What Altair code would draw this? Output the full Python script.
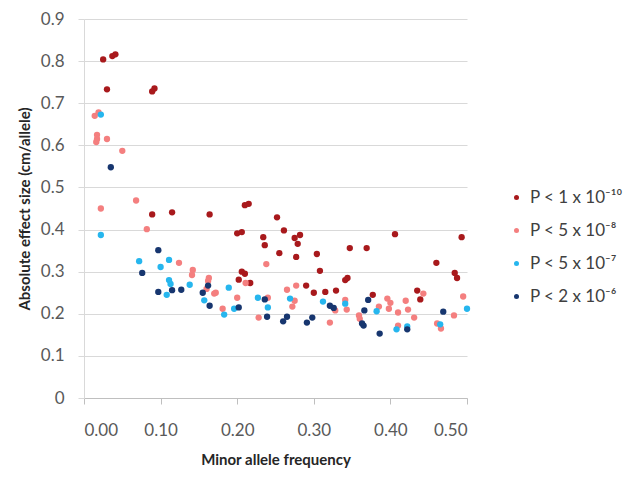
import altair as alt
import pandas as pd

labels = ["P < 1 x 10⁻¹⁰", "P < 5 x 10⁻⁸", "P < 5 x 10⁻⁷", "P < 2 x 10⁻⁶"]
colors = ["#A8191C", "#F47F7F", "#26B6EE", "#17366F"]

# P < 1e-10
s1_maf = [0.025, 0.037, 0.041, 0.030, 0.089, 0.092, 0.089, 0.115, 0.164, 0.210, 0.215,
          0.252, 0.261, 0.200, 0.206, 0.234, 0.236, 0.255, 0.275, 0.282, 0.279, 0.277,
          0.304, 0.347, 0.308, 0.206, 0.210, 0.202, 0.217, 0.290, 0.300, 0.315, 0.329,
          0.341, 0.344, 0.406, 0.493, 0.369, 0.460, 0.484, 0.487, 0.377, 0.435, 0.439]
s1_eff = [0.804, 0.812, 0.816, 0.733, 0.728, 0.735, 0.436, 0.441, 0.436, 0.458, 0.461,
          0.429, 0.398, 0.391, 0.394, 0.382, 0.363, 0.344, 0.380, 0.387, 0.366, 0.335,
          0.342, 0.356, 0.302, 0.300, 0.295, 0.281, 0.273, 0.267, 0.250, 0.252, 0.255,
          0.280, 0.285, 0.389, 0.382, 0.356, 0.321, 0.297, 0.285, 0.245, 0.255, 0.234]

# P < 5e-8
s2_maf = [0.014, 0.019, 0.017, 0.017, 0.016, 0.030, 0.050, 0.068, 0.022, 0.082, 0.124,
          0.142, 0.141, 0.163, 0.162, 0.160, 0.170, 0.172, 0.181, 0.200, 0.211, 0.238,
          0.265, 0.277, 0.272, 0.275, 0.228, 0.240, 0.321, 0.328, 0.341, 0.343, 0.359,
          0.360, 0.385, 0.396, 0.400, 0.398, 0.410, 0.420, 0.423, 0.410, 0.431, 0.443,
          0.461, 0.466, 0.483, 0.495]
s2_eff = [0.670, 0.678, 0.625, 0.615, 0.608, 0.615, 0.587, 0.469, 0.450, 0.401, 0.321,
          0.304, 0.292, 0.285, 0.278, 0.259, 0.248, 0.250, 0.212, 0.238, 0.273, 0.318,
          0.257, 0.267, 0.217, 0.231, 0.191, 0.238, 0.179, 0.208, 0.233, 0.210, 0.196,
          0.188, 0.217, 0.236, 0.226, 0.212, 0.203, 0.231, 0.210, 0.172, 0.191, 0.248,
          0.177, 0.165, 0.196, 0.241]

# P < 5e-7
s3_maf = [0.022, 0.022, 0.072, 0.100, 0.111, 0.111, 0.113, 0.108, 0.138, 0.157, 0.189,
          0.183, 0.196, 0.227, 0.240, 0.269, 0.312, 0.341, 0.382, 0.408, 0.422, 0.465, 0.500]
s3_eff = [0.673, 0.387, 0.325, 0.311, 0.328, 0.280, 0.271, 0.245, 0.269, 0.232, 0.262,
          0.198, 0.212, 0.238, 0.215, 0.236, 0.229, 0.224, 0.206, 0.163, 0.170, 0.175, 0.212]

# P < 2e-6
s4_maf = [0.035, 0.097, 0.076, 0.097, 0.115, 0.127, 0.155, 0.162, 0.164, 0.202, 0.236,
          0.239, 0.260, 0.265, 0.291, 0.298, 0.321, 0.326, 0.371, 0.366, 0.363, 0.365,
          0.386, 0.422, 0.469]
s4_eff = [0.548, 0.351, 0.297, 0.252, 0.256, 0.257, 0.250, 0.267, 0.219, 0.215, 0.234,
          0.193, 0.182, 0.193, 0.179, 0.191, 0.219, 0.214, 0.233, 0.208, 0.177, 0.172,
          0.153, 0.163, 0.205]

rows = []
for lab, xs, ys in zip(labels, [s1_maf, s2_maf, s3_maf, s4_maf], [s1_eff, s2_eff, s3_eff, s4_eff]):
    for a, b in zip(xs, ys):
        rows.append({"maf": a, "eff": b, "series": lab})
df = pd.DataFrame(rows)
df["order"] = range(len(df))

font = "Lato"
chart = alt.Chart(df).mark_circle(size=40, opacity=1).encode(
    x=alt.X("maf:Q", scale=alt.Scale(domain=[0, 0.5], nice=False),
            axis=alt.Axis(title="Minor allele frequency", values=[0, 0.1, 0.2, 0.3, 0.4, 0.5],
                          format=".2f", grid=False, domainColor="#BFBFBF", tickColor="#BFBFBF",
                          tickSize=6, labelPadding=18, labelFontSize=17, labelColor="#595959",
                          labelFont=font, titleFont=font, titleFontSize=15, titleFontWeight="bold",
                          titleColor="#262626", titlePadding=14)),
    y=alt.Y("eff:Q", scale=alt.Scale(domain=[0, 0.9], nice=False),
            axis=alt.Axis(title="Absolute effect size (cm/allele)",
                          values=[0, 0.1, 0.2, 0.3, 0.4, 0.5, 0.6, 0.7, 0.8, 0.9],
                          labelExpr="datum.value == 0 ? '0' : format(datum.value, '.1f')",
                          gridColor="#D9D9D9", domainColor="#D9D9D9", tickColor="#D9D9D9",
                          tickSize=6, labelPadding=14, labelFontSize=17, labelColor="#595959",
                          labelFont=font, titleFont=font, titleFontSize=15, titleFontWeight="bold",
                          titleColor="#262626", titlePadding=8)),
    color=alt.Color("series:N", scale=alt.Scale(domain=labels, range=colors),
                    legend=alt.Legend(title=None, orient="none", legendX=424, legendY=170,
                                      symbolType="circle", symbolSize=25, labelFontSize=17,
                                      labelFont=font, labelColor="#404040", rowPadding=15,
                                      labelOffset=5, labelLimit=200, padding=0)),
    order=alt.Order("order:Q"),
).properties(
    width=383, height=379,
    autosize=alt.AutoSizeParams(type="none"),
    padding={"left": 76, "top": 11, "right": 160, "bottom": 80},
).configure_view(stroke=None)

chart.save("out.html", embed_options={"renderer": "svg", "actions": False})
